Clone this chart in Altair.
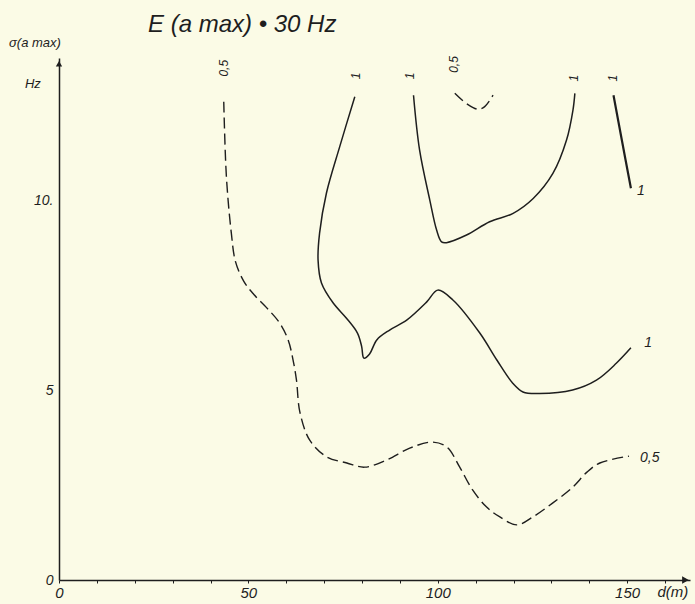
import altair as alt
import pandas as pd

# ---- data ----
# dashed 0.5 contour (main)
a_d = [43.5, 44.2, 45.5, 46.6, 48.8, 51.4, 54.8, 58.3, 60.5, 61.8, 62.7, 63.6, 66.2, 70.7, 76.0,
       80.7, 86.5, 92.6, 98.4, 102.4, 105.8, 109.2, 112.9, 116.4, 120.9, 125.1, 130.4, 135.7,
       139.4, 142.8, 150.5]
a_f = [12.59, 10.61, 9.13, 8.38, 7.86, 7.52, 7.17, 6.76, 6.32, 5.79, 5.26, 4.42, 3.68, 3.24, 3.08,
       2.97, 3.16, 3.47, 3.63, 3.50, 2.97, 2.37, 1.92, 1.66, 1.45, 1.66, 2.03, 2.45,
       2.84, 3.08, 3.26]
# solid 1 contour (lower, long)
b_d = [78.1, 74.1, 70.6, 68.8, 68.4, 69.3, 72.4, 75.9, 78.8, 79.9, 80.5, 82.0, 83.9, 87.3, 91.8,
       97.1, 100.0, 104.0, 111.1, 115.6, 119.8, 122.5, 126.9, 135.6, 141.9, 147.2, 151.0]
b_f = [12.72, 11.40, 10.18, 9.13, 8.42, 7.82, 7.29, 6.89, 6.50, 6.15, 5.84, 5.95, 6.32, 6.58, 6.84,
       7.32, 7.63, 7.37, 6.50, 5.79, 5.18, 4.95, 4.91, 5.00, 5.26, 5.71, 6.11]
# solid 1 contour (U-shape)
c_d = [93.6, 95.2, 97.9, 99.7, 101.0, 102.3, 107.6, 113.7, 119.9, 125.2, 130.4, 134.0, 135.7, 136.2]
c_f = [12.76, 11.32, 10.00, 9.21, 8.90, 8.88, 9.08, 9.43, 9.65, 10.04, 10.70, 11.58, 12.37, 12.81]
# solid 1 contour (short, right)
d_d = [146.4, 148.6, 151.0]
d_f = [12.76, 11.58, 10.31]
# dashed 0.5 contour (small arc near top)
e_d = [104.5, 107.6, 110.7, 112.4, 114.6]
e_f = [12.81, 12.54, 12.39, 12.46, 12.76]

x_ticks = list(range(0, 170, 10))
y_ticks = [0, 5, 10]

top_labels_text = ["0,5", "1", "1", "0,5", "1", "1"]
top_labels_d = [43.5, 78.3, 92.8, 104.4, 135.9, 146.3]
top_labels_f = [13.25, 13.18, 13.18, 13.35, 13.12, 13.12]

side_labels_text = ["1", "1", "0,5"]
side_labels_d = [152.6, 154.5, 153.4]
side_labels_f = [10.25, 6.25, 3.2]

XMAX = 166.6
YMAX = 13.74
INK = "#1e1e1e"
FONT = "Liberation Sans"


def curve(name, ds, fs):
    return pd.DataFrame({"curve": name, "d": ds, "f": fs, "i": range(len(ds))})


xs = alt.X("d:Q", scale=alt.Scale(domain=[0, XMAX], nice=False, zero=False),
           axis=alt.Axis(values=x_ticks, grid=False, title=None, domainColor=INK, domainWidth=1.3,
                         tickColor=INK, tickSize=3, tickWidth=1, labelOverlap=False,
                         labelExpr="datum.value % 50 == 0 ? datum.label : ''",
                         labelFont=FONT, labelFontStyle="italic", labelFontSize=15,
                         labelColor=INK, labelPadding=2, labelFlush=False, labelBound=False))
ys = alt.Y("f:Q", scale=alt.Scale(domain=[0, YMAX], nice=False, zero=False),
           axis=alt.Axis(values=y_ticks, grid=False, title=None, domainColor=INK, domainWidth=1.5,
                         ticks=False, labelOverlap=False,
                         labelExpr="datum.value == 10 ? '10.' : datum.label",
                         labelFont=FONT, labelFontStyle="italic", labelFontSize=14,
                         labelColor=INK, labelPadding=6, labelFlush=False, labelBound=False))

solid = pd.concat([curve("b", b_d, b_f), curve("c", c_d, c_f)])
dashed = pd.concat([curve("a", a_d, a_f), curve("e", e_d, e_f)])
short = curve("d", d_d, d_f)

solid_layer = alt.Chart(solid).mark_line(color=INK, strokeWidth=1.5, interpolate="catmull-rom").encode(
    x=xs, y=ys, detail="curve:N", order="i:Q")
short_layer = alt.Chart(short).mark_line(color=INK, strokeWidth=2.2, interpolate="catmull-rom").encode(
    x=xs, y=ys, order="i:Q")
dashed_layer = alt.Chart(dashed).mark_line(color=INK, strokeWidth=1.4, strokeDash=[11, 5],
                                           interpolate="catmull-rom").encode(
    x=xs, y=ys, detail="curve:N", order="i:Q")

top_df = pd.DataFrame({"t": top_labels_text, "d": top_labels_d, "f": top_labels_f})
top_layer = alt.Chart(top_df).mark_text(angle=270, align="left", baseline="middle", font=FONT,
                                        fontStyle="italic", fontSize=12, color=INK).encode(
    x=xs, y=ys, text="t:N")

side_df = pd.DataFrame({"t": side_labels_text, "d": side_labels_d, "f": side_labels_f})
side_layer = alt.Chart(side_df).mark_text(align="left", baseline="middle", font=FONT,
                                          fontStyle="italic", fontSize=14, color=INK).encode(
    x=xs, y=ys, text="t:N")

# axis arrows
arrow_x = alt.Chart(pd.DataFrame({"d": [XMAX - 1.2], "f": [0]})).mark_point(
    shape="triangle-right", filled=True, color=INK, size=60, opacity=1).encode(x=xs, y=ys)
arrow_y = alt.Chart(pd.DataFrame({"d": [0], "f": [YMAX - 0.15]})).mark_point(
    shape="triangle-up", filled=True, color=INK, size=40, opacity=1).encode(x=xs, y=ys)

# texts: title, axis titles, units
misc_text = ["E (a max) • 30 Hz", "σ(a max)", "Hz", "d(m)"]
misc_d = [23.5, -13.2, -9.0, 158.0]
misc_f = [14.6, 14.13, 13.05, -0.32]
misc_size = [24, 13, 13, 15]
misc_df = pd.DataFrame({"t": misc_text, "d": misc_d, "f": misc_f, "s": misc_size})
misc_layer = alt.Chart(misc_df).mark_text(align="left", baseline="middle", font=FONT,
                                          fontStyle="italic", color=INK).encode(
    x=xs, y=ys, text="t:N", size=alt.Size("s:Q", scale=None, legend=None))

chart = alt.layer(
    dashed_layer, solid_layer, short_layer, top_layer, side_layer, arrow_x, arrow_y, misc_layer
).properties(
    width=631, height=522,
    background="#fbfbe6",
    autosize=alt.AutoSizeParams(type="none"),
    padding={"left": 59, "top": 58, "right": 5, "bottom": 24},
).configure_view(stroke=None).configure_axis(labelOverlap=False)

chart.save("out.html", embed_options={"renderer": "svg", "actions": False})
